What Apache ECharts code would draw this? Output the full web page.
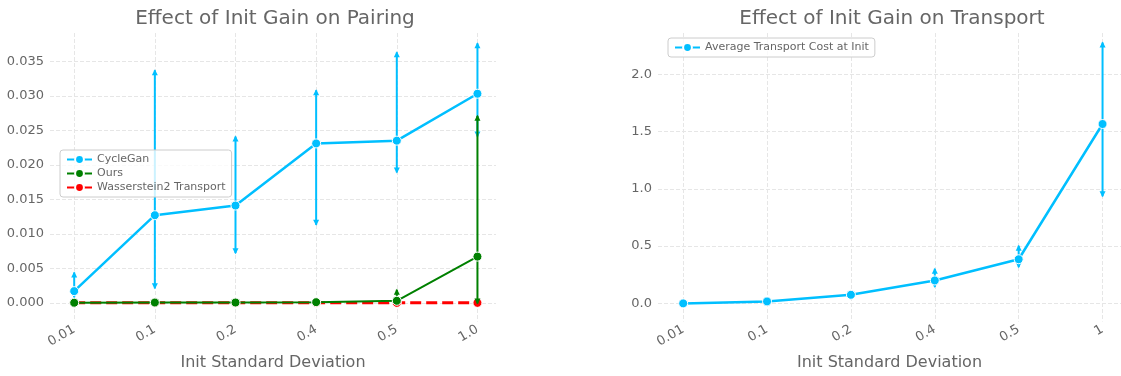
<!DOCTYPE html>
<html>
<head>
<meta charset="utf-8">
<script src="https://cdn.jsdelivr.net/npm/echarts@6/dist/echarts.min.js"></script>
<style>
html, body { margin: 0; padding: 0; background: #fff; }
#chart { width: 1121px; height: 376px; }
</style>
</head>
<body>
<div id="chart"></div>
<script>
// left panel: pairing error vs init std
var pairLabels = ['0.01', '0.1', '0.2', '0.4', '0.5', '1.0'];
var cycleGan = [0.0017, 0.0127, 0.0141, 0.0231, 0.0235, 0.0303];
var cycleGanLow = [0.0008, 0.0021, 0.0072, 0.0113, 0.0189, 0.0241];
var cycleGanHigh = [0.0044, 0.0337, 0.0241, 0.0308, 0.0363, 0.0376];
var ours = [0.00002, 0.00005, 0.00005, 0.0001, 0.0003, 0.0067];
var oursLow = [0, 0, 0, 0, -0.0003, -0.0001];
var oursHigh = [0.00005, 0.0001, 0.0001, 0.0002, 0.0019, 0.0271];
var w2 = [0, 0, 0, 0, 0, 0];
var pairTicks = [0, 0.005, 0.01, 0.015, 0.02, 0.025, 0.03, 0.035];

// right panel: transport cost vs init std
var costLabels = ['0.01', '0.1', '0.2', '0.4', '0.5', '1'];
var cost = [0.0, 0.017, 0.075, 0.2, 0.385, 1.565];
var costLow = [0.0, 0.008, 0.04, 0.144, 0.316, 0.934];
var costHigh = [0.0, 0.026, 0.11, 0.302, 0.503, 2.276];
var costTicks = [0, 0.5, 1, 1.5, 2];

var idx = [0, 1, 2, 3, 4, 5];
var grey = '#666';
var gridLine = { show: true, lineStyle: { color: '#e6e6e6', type: 'dashed', width: 1 } };

function pts(vals) {
	return vals.map(function (v, i) { return [i, v]; });
}
function bars(lo, hi) {
	return lo.map(function (v, i) { return [i, v, hi[i]]; });
}

// vertical error bar with arrow heads at both ends
function errRender(color) {
	return function (params, api) {
		var x = api.value(0);
		var lo = api.coord([x, api.value(1)]);
		var hi = api.coord([x, api.value(2)]);
		if (lo[1] - hi[1] < 2) return;
		var s = 3;
		return {
			type: 'group',
			children: [
				{ type: 'line', shape: { x1: lo[0], y1: lo[1], x2: hi[0], y2: hi[1] }, style: { stroke: color, lineWidth: 2 } },
				{ type: 'polygon', shape: { points: [[hi[0] - s, hi[1] + 5], [hi[0] + s, hi[1] + 5], [hi[0], hi[1] - 1]] }, style: { fill: color } },
				{ type: 'polygon', shape: { points: [[lo[0] - s, lo[1] - 5], [lo[0] + s, lo[1] - 5], [lo[0], lo[1] + 1]] }, style: { fill: color } }
			]
		};
	};
}

function xAxisFor(gridIndex, labels, max) {
	return {
		type: 'value', gridIndex: gridIndex, min: -0.3, max: max,
		name: 'Init Standard Deviation', nameLocation: 'middle', nameGap: 31,
		nameTextStyle: { fontSize: 16, color: grey },
		axisLine: { show: false },
		axisTick: { show: false, customValues: idx },
		axisLabel: {
			customValues: idx, rotate: 30, margin: 7, fontSize: 13, color: grey,
			formatter: function (v) { return labels[Math.round(v)]; }
		},
		splitLine: gridLine
	};
}

function yAxisFor(gridIndex, min, max, ticks, digits) {
	return {
		type: 'value', gridIndex: gridIndex, min: min, max: max,
		axisLine: { show: false },
		axisTick: { show: false, customValues: ticks },
		axisLabel: {
			customValues: ticks, fontSize: 13, color: grey, margin: 6,
			formatter: function (v) { return v.toFixed(digits); }
		},
		splitLine: gridLine
	};
}

function lineSeries(name, data, color, width, axis, z, dashed) {
	return {
		name: name, type: 'line', xAxisIndex: axis, yAxisIndex: axis, z: z,
		data: pts(data), symbol: 'circle', symbolSize: 9,
		itemStyle: { color: color, borderColor: '#fff', borderWidth: 1 },
		lineStyle: { color: color, width: width, type: dashed ? [11, 5] : 'solid' }
	};
}

function errSeries(name, lo, hi, color, axis, z) {
	return {
		name: name, type: 'custom', xAxisIndex: axis, yAxisIndex: axis, z: z,
		data: bars(lo, hi), encode: { x: 0, y: [1, 2] },
		renderItem: errRender(color)
	};
}

var legendStyle = {
	orient: 'vertical', itemWidth: 25, itemHeight: 11, itemGap: 3,
	padding: [4, 6, 4, 6], textStyle: { fontSize: 11, color: grey },
	backgroundColor: 'rgba(255,255,255,0.8)', borderColor: '#ccc', borderWidth: 1, borderRadius: 3
};

var chart = echarts.init(document.getElementById('chart'));
chart.setOption({
	animation: false,
	textStyle: { fontFamily: 'DejaVu Sans' },
	title: [
		{ text: 'Effect of Init Gain on Pairing', left: 275, top: 9, textAlign: 'center', padding: 0,
			textStyle: { fontSize: 20, fontWeight: 'normal', color: grey } },
		{ text: 'Effect of Init Gain on Transport', left: 892, top: 9, textAlign: 'center', padding: 0,
			textStyle: { fontSize: 20, fontWeight: 'normal', color: grey } }
	],
	legend: [
		Object.assign({ left: 60, top: 150, data: ['CycleGan', 'Ours', 'Wasserstein2 Transport'] }, legendStyle),
		Object.assign({ left: 668, top: 38, data: ['Average Transport Cost at Init'] }, legendStyle)
	],
	grid: [
		{ left: 50, width: 446, top: 33, bottom: 51 },
		{ left: 658, right: 0, top: 33, bottom: 51 }
	],
	xAxis: [xAxisFor(0, pairLabels, 5.23), xAxisFor(1, costLabels, 5.22)],
	yAxis: [yAxisFor(0, -0.0027, 0.0391, pairTicks, 3), yAxisFor(1, -0.158, 2.359, costTicks, 1)],
	series: [
		lineSeries('Wasserstein2 Transport', w2, '#FF0000', 3, 0, 1, true),
		lineSeries('CycleGan', cycleGan, '#00BFFF', 2.5, 0, 2),
		errSeries('CycleGan err', cycleGanLow, cycleGanHigh, '#00BFFF', 0, 2),
		lineSeries('Ours', ours, '#008000', 2, 0, 3),
		errSeries('Ours err', oursLow, oursHigh, '#008000', 0, 3),
		lineSeries('Average Transport Cost at Init', cost, '#00BFFF', 2.5, 1, 2),
		errSeries('Cost err', costLow, costHigh, '#00BFFF', 1, 2)
	]
});
</script>
</body>
</html>
